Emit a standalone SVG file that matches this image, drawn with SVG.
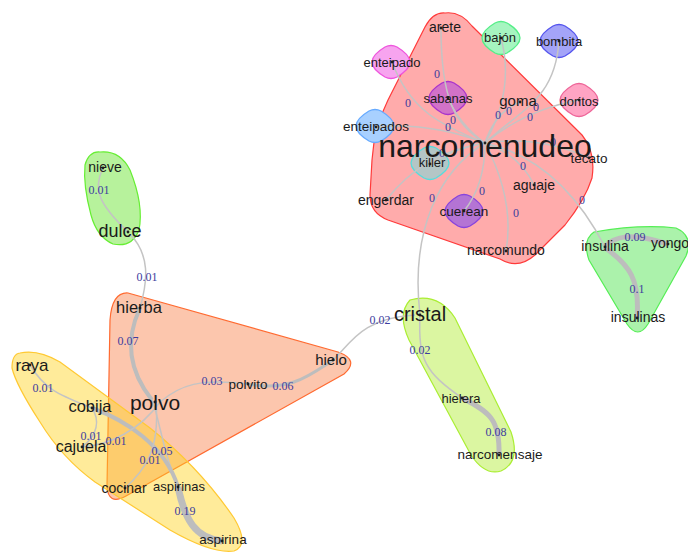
<svg xmlns="http://www.w3.org/2000/svg" xmlns:xlink="http://www.w3.org/1999/xlink" width="688" height="552" viewBox="0 0 688 552">
<style>
.h{stroke-width:1.2}
.e{fill:none;stroke:#c4c4c4;stroke-width:1.5}
.w{fill:none;stroke:#bdbdbd}
.t{font-family:"Liberation Sans",Arial,sans-serif;fill:#1a1a1a;text-anchor:middle}
.l{font-family:"Liberation Serif","Times New Roman",serif;fill:#3d3d9e;font-size:12px;text-anchor:middle}
.d{fill:#222}
.b{stroke-width:1.3}
</style>
<defs>
<path id="blob" d="M-19,0 C-19,-6 -11,-12 -6,-15 C-2,-17 2,-17 6,-15 C11,-12 19,-6 19,0 C19,6 11,12 6,15 C2,17 -2,17 -6,15 C-11,12 -19,6 -19,0 Z"/>
</defs>
<rect width="688" height="552" fill="#fff"/>
<g id="hulls">
<path class="h" d="M445,13 Q460,11 472,26 L582,135 Q596,152 592,178 Q585,200 565,225 L535,255 Q518,270 500,259 L388,220 Q370,213 370,195 L372,160 Q374,128 388,100 L425,27 Q433,12 445,13 Z" fill="#ff0000" fill-opacity="0.33" stroke="#ff3a3a"/>
<path class="h" d="M128,293 L338,352 Q360,360 344,374 L126,496 Q108,506 107,486 L110,320 Q112,292 128,293 Z" fill="#f8814a" fill-opacity="0.45" stroke="#ff6a30"/>
<path class="h" d="M20,353 Q38,349 60,362 L150,428 Q200,468 234,518 Q250,545 234,551 Q212,554 170,530 L95,482 Q62,458 40,422 Q16,385 12,368 Q12,354 20,353 Z" fill="#ffd21e" fill-opacity="0.45" stroke="#ffc933"/>
<path class="h" d="M100,152 Q120,150 130,170 Q144,205 139,230 Q132,248 113,244 Q97,237 91,215 Q83,185 85,165 Q89,151 100,152 Z" fill="#7ce84a" fill-opacity="0.55" stroke="#66ee33"/>
<path class="h" d="M594,232 Q640,224 676,228 Q694,236 686,256 L648,324 Q638,340 627,324 L589,260 Q582,240 594,232 Z" fill="#66e866" fill-opacity="0.55" stroke="#55ee55"/>
<path class="h" d="M410,300 Q438,292 455,318 L511,432 Q521,462 501,471 Q485,476 471,455 L409,340 Q397,314 410,300 Z" fill="#b8ee44" fill-opacity="0.5" stroke="#aaee33"/>
</g>
<g id="blobs">
<use href="#blob" x="501" y="38" fill="#a6f5c0" stroke="#55ee88" class="b"/>
<use href="#blob" x="559" y="41" fill="#a4a4f8" stroke="#5555ee" class="b"/>
<use href="#blob" x="391" y="62" fill="#f7a4ef" stroke="#ee55dd" class="b"/>
<use href="#blob" x="448" y="98" fill="#d272c8" stroke="#aa33cc" class="b"/>
<use href="#blob" x="579" y="100" fill="#ffa4c4" stroke="#ee6699" class="b"/>
<use href="#blob" x="375" y="126" fill="#a8d0ff" stroke="#66aaff" class="b"/>
<use href="#blob" x="430" y="163" fill="#b4c6c6" stroke="#55dddd" class="b"/>
<use href="#blob" x="464" y="211" fill="#b474d4" stroke="#8844dd" class="b"/>
</g>
<g id="connectors">
<path class="e" d="M485,143 C455,125 441,100 441,28"/>
<path class="e" d="M485,143 C440,125 410,110 392,62"/>
<path class="e" d="M485,143 Q460,125 448,98"/>
<path class="e" d="M485,143 Q430,122 376,127"/>
<path class="e" d="M485,143 Q495,112 520,102"/>
<path class="e" d="M485,143 Q515,90 501,38"/>
<path class="e" d="M485,143 C520,110 555,100 559,41"/>
<path class="e" d="M485,143 Q525,110 579,100"/>
<path class="e" d="M485,143 Q540,135 589,158"/>
<path class="e" d="M485,143 Q520,155 534,185"/>
<path class="e" d="M485,143 Q485,185 464,211"/>
<path class="e" d="M485,143 Q455,148 430,164"/>
<path class="e" d="M485,143 C440,150 410,170 386,200"/>
<path class="e" d="M485,143 Q515,200 506,251"/>
<path class="e" d="M485,143 Q560,160 605,247"/>
<path class="e" d="M485,143 C440,170 410,230 420,315"/>
<path class="w" stroke-width="5" d="M604,247 C615,236 630,232 668,244"/>
<path class="w" stroke-width="5" d="M604,247 C630,265 640,280 637,318"/>
<path class="e" stroke-width="2" d="M420,315 C418,360 425,372 462,398"/>
<path class="w" stroke-width="5" d="M462,398 C490,412 500,420 499,455"/>
<path class="e" d="M333,360 C350,345 360,318 415,315"/>
<path class="w" stroke-width="3" d="M248,384 C290,392 310,375 333,360"/>
<path class="e" stroke-width="2" d="M160,402 C180,385 200,378 248,384"/>
<path class="e" d="M103,168 C92,190 100,205 128,232"/>
<path class="e" d="M130,234 C150,255 148,280 140,308"/>
<path class="w" stroke-width="4" d="M140,308 C125,340 128,370 152,400"/>
<path class="e" stroke-width="2" d="M152,400 C160,420 162,450 178,487"/>
<path class="w" stroke-width="4" d="M92,408 C125,420 165,445 178,487"/>
<path class="w" stroke-width="7" d="M178,487 C185,520 195,538 222,541"/>
<path class="e" d="M30,365 C45,390 60,395 92,408"/>
<path class="e" d="M92,408 C100,420 98,435 82,447"/>
<path class="e" d="M82,447 C110,445 140,430 160,402"/>
<path class="e" d="M125,488 C145,470 160,450 156,402"/>
</g>
<g id="edge-labels">
<text class="l" x="437" y="78">0</text>
<text class="l" x="408" y="107">0</text>
<text class="l" x="453" y="124">0</text>
<text class="l" x="448" y="131">0</text>
<text class="l" x="498" y="119">0</text>
<text class="l" x="509" y="115">0</text>
<text class="l" x="536" y="111">0</text>
<text class="l" x="530" y="121">0</text>
<text class="l" x="553" y="146">0</text>
<text class="l" x="523" y="170">0</text>
<text class="l" x="482" y="195">0</text>
<text class="l" x="432" y="202">0</text>
<text class="l" x="516" y="217">0</text>
<text class="l" x="442" y="157">0</text>
<text class="l" x="582" y="204">0</text>
<text class="l" x="99" y="194">0.01</text>
<text class="l" x="147" y="281">0.01</text>
<text class="l" x="128" y="345">0.07</text>
<text class="l" x="43" y="392">0.01</text>
<text class="l" x="91" y="440">0.01</text>
<text class="l" x="116" y="445">0.01</text>
<text class="l" x="162" y="455">0.05</text>
<text class="l" x="150" y="464">0.01</text>
<text class="l" x="185" y="515">0.19</text>
<text class="l" x="212" y="385">0.03</text>
<text class="l" x="283" y="390">0.06</text>
<text class="l" x="380" y="324">0.02</text>
<text class="l" x="420" y="354">0.02</text>
<text class="l" x="496" y="436">0.08</text>
<text class="l" x="635" y="241">0.09</text>
<text class="l" x="637" y="293">0.1</text>
</g>
<g id="n-narcomenudeo"><circle class="d" cx="485" cy="143" r="1.4"/><text class="t" x="485" y="157" font-size="32">narcomenudeo</text></g>
<g id="n-arete"><circle class="d" cx="441" cy="28" r="1.4"/><text class="t" x="445" y="32" font-size="14">arete</text></g>
<g id="n-bajon"><circle class="d" cx="501" cy="38" r="1.4"/><text class="t" x="500" y="42" font-size="13">bajón</text></g>
<g id="n-bombita"><circle class="d" cx="559" cy="41" r="1.4"/><text class="t" x="559" y="46" font-size="13">bombita</text></g>
<g id="n-enteipado"><circle class="d" cx="392" cy="62" r="1.4"/><text class="t" x="392" y="67" font-size="13">enteipado</text></g>
<g id="n-sabanas"><circle class="d" cx="448" cy="98" r="1.4"/><text class="t" x="448" y="103" font-size="13">sabanas</text></g>
<g id="n-goma"><circle class="d" cx="520" cy="102" r="1.4"/><text class="t" x="518" y="106" font-size="15">goma</text></g>
<g id="n-doritos"><circle class="d" cx="579" cy="100" r="1.4"/><text class="t" x="579" y="106" font-size="13">doritos</text></g>
<g id="n-enteipados"><circle class="d" cx="376" cy="127" r="1.4"/><text class="t" x="376" y="131" font-size="13.5">enteipados</text></g>
<g id="n-killer"><circle class="d" cx="430" cy="164" r="1.4"/><text class="t" x="432" y="167" font-size="13">killer</text></g>
<g id="n-tecato"><circle class="d" cx="589" cy="158" r="1.4"/><text class="t" x="589" y="163" font-size="13.5">tecato</text></g>
<g id="n-aguaje"><circle class="d" cx="534" cy="185" r="1.4"/><text class="t" x="534" y="190" font-size="14">aguaje</text></g>
<g id="n-engerdar"><circle class="d" cx="386" cy="200" r="1.4"/><text class="t" x="386" y="205" font-size="14">engerdar</text></g>
<g id="n-cuerean"><circle class="d" cx="464" cy="211" r="1.4"/><text class="t" x="464" y="216" font-size="13.5">cuerean</text></g>
<g id="n-narcomundo"><circle class="d" cx="506" cy="251" r="1.4"/><text class="t" x="506" y="255" font-size="14">narcomundo</text></g>
<g id="n-insulina"><circle class="d" cx="605" cy="247" r="1.4"/><text class="t" x="605" y="251" font-size="14">insulina</text></g>
<g id="n-yongo"><circle class="d" cx="668" cy="244" r="1.4"/><text class="t" x="670" y="248" font-size="14">yongo</text></g>
<g id="n-insulinas"><circle class="d" cx="637" cy="318" r="1.4"/><text class="t" x="638" y="322" font-size="14">insulinas</text></g>
<g id="n-cristal"><circle class="d" cx="420" cy="315" r="1.4"/><text class="t" x="420" y="321" font-size="20">cristal</text></g>
<g id="n-hielera"><circle class="d" cx="462" cy="398" r="1.4"/><text class="t" x="461" y="403" font-size="13">hielera</text></g>
<g id="n-narcomensaje"><circle class="d" cx="499" cy="455" r="1.4"/><text class="t" x="500" y="459" font-size="13.5">narcomensaje</text></g>
<g id="n-hielo"><circle class="d" cx="333" cy="360" r="1.4"/><text class="t" x="331" y="365" font-size="15">hielo</text></g>
<g id="n-polvito"><circle class="d" cx="248" cy="384" r="1.4"/><text class="t" x="248" y="389" font-size="13.5">polvito</text></g>
<g id="n-polvo"><circle class="d" cx="155" cy="402" r="1.4"/><text class="t" x="155" y="410" font-size="21">polvo</text></g>
<g id="n-hierba"><circle class="d" cx="140" cy="308" r="1.4"/><text class="t" x="139" y="313" font-size="16.5">hierba</text></g>
<g id="n-dulce"><circle class="d" cx="128" cy="232" r="1.4"/><text class="t" x="120" y="237" font-size="18">dulce</text></g>
<g id="n-nieve"><circle class="d" cx="103" cy="168" r="1.4"/><text class="t" x="105" y="172" font-size="14">nieve</text></g>
<g id="n-raya"><circle class="d" cx="30" cy="365" r="1.4"/><text class="t" x="32" y="371" font-size="17">raya</text></g>
<g id="n-cobija"><circle class="d" cx="92" cy="408" r="1.4"/><text class="t" x="90" y="412" font-size="16.5">cobija</text></g>
<g id="n-cajuela"><circle class="d" cx="82" cy="447" r="1.4"/><text class="t" x="81" y="452" font-size="16">cajuela</text></g>
<g id="n-cocinar"><circle class="d" cx="125" cy="488" r="1.4"/><text class="t" x="124" y="493" font-size="14">cocinar</text></g>
<g id="n-aspirinas"><circle class="d" cx="178" cy="487" r="1.4"/><text class="t" x="179" y="491" font-size="13">aspirinas</text></g>
<g id="n-aspirina"><circle class="d" cx="222" cy="541" r="1.4"/><text class="t" x="223" y="544" font-size="13.5">aspirina</text></g>
</svg>
